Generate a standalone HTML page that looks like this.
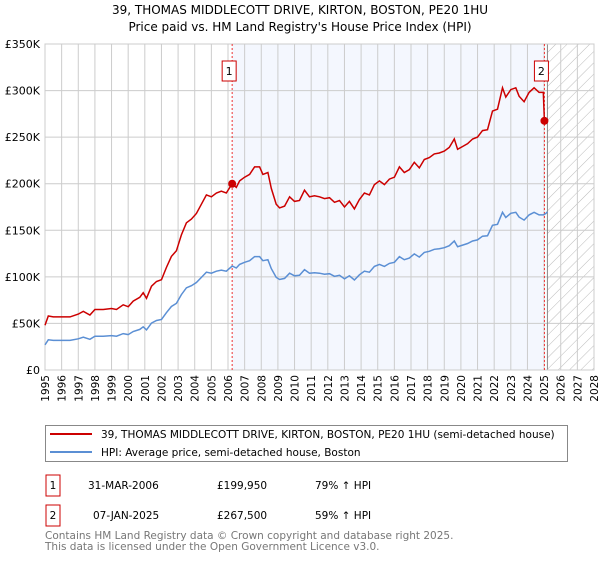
<!DOCTYPE html>
<html><head><meta charset="utf-8"><style>
body{margin:0;background:#fff;width:600px;height:560px;overflow:hidden;font-family:"Liberation Sans","DejaVu Sans",sans-serif}
</style></head><body>
<svg id="chart" width="600" height="560" xmlns="http://www.w3.org/2000/svg" font-family="DejaVu Sans, Liberation Sans, sans-serif">
<defs><pattern id="hatch" patternUnits="userSpaceOnUse" width="8" height="8" patternTransform="rotate(45)"><line x1="0" y1="0" x2="0" y2="8" stroke="#bbb" stroke-width="1"/></pattern></defs>
<text x="300" y="14" text-anchor="middle" font-size="12" fill="#000">39, THOMAS MIDDLECOTT DRIVE, KIRTON, BOSTON, PE20 1HU</text>
<text x="300" y="31" text-anchor="middle" font-size="12" fill="#000">Price paid vs. HM Land Registry's House Price Index (HPI)</text>
<g id="plot"></g>
<g>
<rect x="45.5" y="425.5" width="522" height="36" fill="#fff" stroke="#888"/>
<line x1="50" y1="434" x2="92" y2="434" stroke="#cc0000" stroke-width="2"/>
<text x="101" y="438" font-size="10.5">39, THOMAS MIDDLECOTT DRIVE, KIRTON, BOSTON, PE20 1HU (semi-detached house)</text>
<line x1="50" y1="452" x2="92" y2="452" stroke="#5b8fd4" stroke-width="2"/>
<text x="101" y="456" font-size="10.5">HPI: Average price, semi-detached house, Boston</text>
</g>
<g font-size="10.5">
<rect x="46" y="475" width="14" height="21" fill="#fff" stroke="#cc0000"/>
<text x="53" y="489" text-anchor="middle">1</text>
<text x="88" y="489">31-MAR-2006</text>
<text x="217" y="489">£199,950</text>
<text x="315" y="489">79% ↑ HPI</text>
<rect x="46" y="505" width="14" height="21" fill="#fff" stroke="#cc0000"/>
<text x="53" y="519" text-anchor="middle">2</text>
<text x="93" y="519">07-JAN-2025</text>
<text x="217" y="519">£267,500</text>
<text x="315" y="519">59% ↑ HPI</text>
</g>
<text x="45" y="539" font-size="10.5" fill="#777">Contains HM Land Registry data © Crown copyright and database right 2025.</text>
<text x="45" y="550" font-size="10.5" fill="#777">This data is licensed under the Open Government Licence v3.0.</text>
</svg>
<script>
const yTicks=[0,50,100,150,200,250,300,350];
const yTickLabels=["£0","£50K","£100K","£150K","£200K","£250K","£300K","£350K"];
const years=[1995,1996,1997,1998,1999,2000,2001,2002,2003,2004,2005,2006,2007,2008,2009,2010,2011,2012,2013,2014,2015,2016,2017,2018,2019,2020,2021,2022,2023,2024,2025,2026,2027,2028];
const redDates=[1995.0,1995.2,1995.5,1996,1996.5,1997,1997.3,1997.7,1998,1998.5,1999,1999.3,1999.7,2000,2000.3,2000.7,2000.9,2001.1,2001.4,2001.7,2002,2002.3,2002.6,2002.9,2003.2,2003.5,2003.8,2004.1,2004.4,2004.7,2005,2005.3,2005.6,2005.9,2006.25,2006.5,2006.7,2007,2007.3,2007.6,2007.9,2008.1,2008.4,2008.6,2008.9,2009.1,2009.4,2009.7,2010,2010.3,2010.6,2010.9,2011.2,2011.5,2011.8,2012.1,2012.4,2012.7,2013,2013.3,2013.6,2013.9,2014.2,2014.5,2014.8,2015.1,2015.4,2015.7,2016,2016.3,2016.6,2016.9,2017.2,2017.5,2017.8,2018.1,2018.4,2018.7,2019,2019.3,2019.6,2019.8,2020.1,2020.4,2020.7,2021,2021.3,2021.6,2021.9,2022.2,2022.5,2022.7,2023,2023.3,2023.5,2023.8,2024.1,2024.4,2024.7,2024.95,2025.02];
const redValues=[48,58,57,57,57,60,63,59,65,65,66,65,70,68,74,78,83,77,90,95,97,110,122,128,145,158,162,168,178,188,186,190,192,190,200,196,203,207,210,218,218,210,212,195,178,174,176,186,181,182,193,186,187,186,184,185,180,182,175,181,173,183,190,188,199,203,199,205,207,218,212,215,223,217,226,228,232,233,235,239,248,237,240,243,248,250,257,258,278,280,303,293,301,303,294,288,298,303,298,298,267.5];
const blueDates=[1995.0,1995.2,1995.5,1996,1996.5,1997,1997.3,1997.7,1998,1998.5,1999,1999.3,1999.7,2000,2000.3,2000.7,2000.9,2001.1,2001.4,2001.7,2002,2002.3,2002.6,2002.9,2003.2,2003.5,2003.8,2004.1,2004.4,2004.7,2005,2005.3,2005.6,2005.9,2006.25,2006.5,2006.7,2007,2007.3,2007.6,2007.9,2008.1,2008.4,2008.6,2008.9,2009.1,2009.4,2009.7,2010,2010.3,2010.6,2010.9,2011.2,2011.5,2011.8,2012.1,2012.4,2012.7,2013,2013.3,2013.6,2013.9,2014.2,2014.5,2014.8,2015.1,2015.4,2015.7,2016,2016.3,2016.6,2016.9,2017.2,2017.5,2017.8,2018.1,2018.4,2018.7,2019,2019.3,2019.6,2019.8,2020.1,2020.4,2020.7,2021,2021.3,2021.6,2021.9,2022.2,2022.5,2022.7,2023,2023.3,2023.5,2023.8,2024.1,2024.4,2024.7,2024.95,2025.1,2025.2];
const blueValues=[27,32.4,31.8,31.8,31.8,33.5,35.2,33,36.3,36.3,36.9,36.3,39.1,38,41.3,43.6,46.4,43,50.3,53.1,54.2,61.5,68.2,71.5,81,88.3,90.5,93.9,99.4,105,103.9,106.1,107.3,106.1,111.7,109.5,113.4,115.6,117.3,121.8,121.8,117.3,118.4,108.9,99.4,97.2,98.3,103.9,101.1,101.7,107.8,103.9,104.5,103.9,102.8,103.4,100.6,101.7,97.8,101.1,96.6,102.2,106.1,105,111.2,113.4,111.2,114.5,115.6,121.8,118.4,120.1,124.6,121.2,126.3,127.4,129.6,130.2,131.3,133.5,138.5,132.4,134.1,135.8,138.5,139.7,143.6,144.1,155.3,156.4,169.3,163.7,168.2,169.3,164.2,160.9,166.5,169.3,166.5,166.5,168,170];
const saleDates=[2006.25,2025.02];
const saleValues=[199.95,267.5];
const saleLabels=["1","2"];
const dataEnd=2025.2;

const L=45,R=594,T=44,B=370,X0=1995,X1=2028,YMAX=350;
const NS="http://www.w3.org/2000/svg";
function xs(d){return L+(d-X0)/(X1-X0)*(R-L);}
function ys(v){return B-v/YMAX*(B-T);}
const g=document.getElementById('plot');
function mk(tag,attrs,parent){const e=document.createElementNS(NS,tag);for(const k in attrs)e.setAttribute(k,attrs[k]);(parent||g).appendChild(e);return e;}

let e=mk('rect',{x:xs(saleDates[0]),y:T,width:xs(saleDates[1])-xs(saleDates[0]),height:B-T,fill:'#f4f7fe'});


e=mk('rect',{x:xs(dataEnd),y:T,width:R-xs(dataEnd),height:B-T,fill:'url(#hatch)'});


years.forEach(y=>{const l=mk('line',{x1:xs(y),x2:xs(y),y1:T,y2:B,stroke:'#ccc','stroke-width':1});


const t=mk('text',{x:0,y:0,'font-size':10.5,'text-anchor':'end',transform:`translate(${xs(y)+4},${B+5}) rotate(-90)`});
t.textContent=y;

});
yTicks.forEach((v,i)=>{const l=mk('line',{x1:L,x2:R,y1:ys(v),y2:ys(v),stroke:'#ccc','stroke-width':1});


const t=mk('text',{x:L-5,y:ys(v)+4,'font-size':11,'text-anchor':'end'});t.textContent=yTickLabels[i];

});
e=mk('line',{x1:xs(dataEnd),x2:xs(dataEnd),y1:T,y2:B,stroke:'#888','stroke-width':1});


e=mk('rect',{x:L,y:T,width:R-L,height:B-T,fill:'none',stroke:'#ccc'});


saleDates.forEach((d,i)=>{const l=mk('line',{x1:xs(d),x2:xs(d),y1:T,y2:B,stroke:'#e33','stroke-width':1,'stroke-dasharray':'2,2'});


const r=mk('rect',{x:xs(d)-10,y:61,width:14,height:20,fill:'#fff',stroke:'#cc0000'});


const t=mk('text',{x:xs(d)-3,y:75,'font-size':11,'text-anchor':'middle'});t.textContent=saleLabels[i];

});
function path(ds,vs){return ds.map((d,i)=>(i?'L':'M')+xs(d).toFixed(1)+','+ys(vs[i]).toFixed(1)).join('');}
e=mk('path',{d:path(blueDates,blueValues),fill:'none',stroke:'#5b8fd4','stroke-width':1.5});


e=mk('path',{d:path(redDates,redValues),fill:'none',stroke:'#cc0000','stroke-width':1.5});


saleDates.forEach((d,i)=>{const c=mk('circle',{cx:xs(d),cy:ys(saleValues[i]),r:4,fill:'#cc0000'});

});
</script>
</body></html>
